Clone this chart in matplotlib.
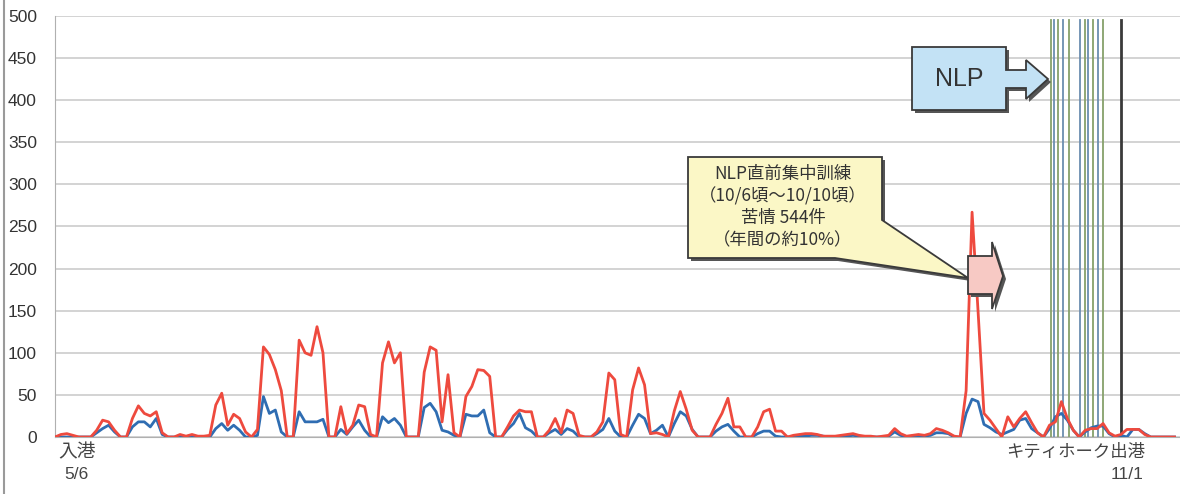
import numpy as np
import matplotlib
matplotlib.use("Agg")
import matplotlib.pyplot as plt
from matplotlib.patches import Polygon
from matplotlib.lines import Line2D

plt.rcParams['font.family'] = ['Liberation Sans', 'Noto Sans CJK JP', 'DejaVu Sans']

# daily complaint counts from 5/6 (day 0) onwards
total_counts = [
    0, 3, 4, 2, 0, 0, 0, 8, 20, 18, 8, 0, 0, 22, 37, 28, 25, 30, 5, 0,
    0, 3, 1, 3, 1, 1, 2, 38, 52, 14, 27, 22, 6, 0, 9, 107, 98, 80, 55, 0,
    0, 115, 100, 97, 131, 100, 0, 0, 36, 4, 14, 38, 36, 3, 0, 88, 113, 88, 100, 0,
    0, 0, 77, 107, 103, 18, 74, 5, 0, 48, 60, 80, 79, 72, 0, 0, 12, 25, 32, 30,
    30, 0, 0, 8, 22, 5, 32, 28, 2, 0, 0, 6, 18, 76, 68, 3, 0, 56, 82, 62,
    4, 5, 3, 0, 31, 54, 33, 8, 0, 0, 0, 15, 28, 46, 12, 12, 0, 0, 12, 30,
    33, 7, 7, 0, 2, 3, 4, 4, 3, 1, 1, 1, 2, 3, 4, 2, 1, 1, 0, 1,
    2, 10, 4, 1, 2, 3, 2, 4, 10, 8, 5, 1, 0, 55, 267, 150, 28, 20, 10, 0,
    24, 12, 22, 30, 17, 5, 0, 14, 18, 42, 22, 8, 0, 8, 10, 10, 16, 5, 1, 3,
    9, 9, 9, 3, 0, 0, 0, 0, 0,
]
night_counts = [
    0, 0, 0, 0, 0, 0, 0, 5, 10, 14, 6, 0, 0, 12, 18, 18, 12, 22, 3, 0,
    0, 0, 0, 0, 0, 0, 0, 10, 16, 8, 14, 8, 0, 0, 2, 48, 28, 32, 6, 0,
    0, 30, 18, 18, 18, 21, 0, 0, 9, 3, 12, 20, 8, 0, 0, 24, 17, 22, 14, 0,
    0, 0, 35, 40, 30, 8, 6, 2, 0, 27, 25, 25, 32, 5, 0, 0, 9, 16, 28, 11,
    7, 0, 0, 5, 9, 3, 10, 7, 0, 0, 0, 4, 9, 22, 7, 0, 0, 14, 27, 22,
    4, 8, 14, 0, 16, 30, 25, 9, 0, 0, 0, 7, 12, 15, 7, 0, 0, 0, 4, 7,
    7, 1, 0, 0, 0, 1, 1, 2, 2, 1, 0, 0, 1, 1, 2, 1, 0, 0, 0, 0,
    1, 6, 2, 0, 1, 1, 1, 2, 5, 5, 4, 0, 0, 28, 45, 42, 15, 11, 6, 3,
    6, 9, 20, 22, 10, 5, 0, 10, 24, 28, 20, 8, 0, 6, 11, 13, 13, 4, 0, 2,
    0, 9, 9, 4, 0, 0, 0, 0, 0,
]
days = np.arange(len(total_counts))

# NLP days (vertical markers) and departure day
nlp_days = [167.3, 167.8, 168.4, 169.3, 170.3, 172.1, 173.0, 173.5, 174.3, 175.1, 176.0]
departure_day = 179.0

W, H = 1180, 494
fig = plt.figure(figsize=(W / 100, H / 100), dpi=100)
ax = fig.add_axes([55 / W, 1 - 437 / H, 1 - 55 / W, (437 - 16) / H])


def px(x, y):
    # pixel position -> figure fraction
    return (x / W, 1 - y / H)


ax.set_xlim(0, 1125 / 5.955)
ax.set_ylim(0, 500)
ax.set_yticks(np.arange(0, 501, 50))
ax.set_xticks([])
ax.tick_params(axis='y', length=0, pad=13, labelsize=12.5, labelcolor='#333333')
ax.grid(axis='y', color='#c8c8c8', lw=1.1)
ax.set_axisbelow(True)
for s in ['top', 'right']:
    ax.spines[s].set_visible(False)
ax.spines['left'].set_color('#b0b0b0')
ax.spines['bottom'].set_color('#b0b0b0')

colors = ['#86a06a', '#6b8eb0']
for k, d in enumerate(nlp_days):
    ax.axvline(d, ymax=0.99, color=colors[k % 2], lw=1.3, zorder=1)
ax.axvline(departure_day, ymax=0.99, color='#3a3a3a', lw=2.0, zorder=1)

ax.plot(days, night_counts, color='#2f6db2', lw=2.0, zorder=3)
ax.plot(days, total_counts, color='#ee4a3e', lw=2.0, zorder=4)


def shape(points, face, zorder=5):
    # filled outline with a dark drop shadow
    sh = [px(x + 3, y + 3) for x, y in points]
    fig.patches.append(Polygon(sh, closed=True, transform=fig.transFigure,
                               facecolor='#555555', edgecolor='none', zorder=zorder))
    fig.patches.append(Polygon([px(x, y) for x, y in points], closed=True,
                               transform=fig.transFigure, facecolor=face,
                               edgecolor='#3a3a3a', lw=1.3, zorder=zorder + 1))


cjk = ['Noto Sans CJK JP', 'DejaVu Sans']

# callout for the pre-NLP training period
shape([(688, 157), (882, 157), (882, 220), (968, 278), (835, 258), (688, 258)], '#fbf7c6')
callout = ['NLP直前集中訓練', '（10/6頃～10/10頃）', '苦情 544件', '（年間の約10%）']
for row, t in zip([174, 196, 218, 240], callout):
    fig.text(*px(783, row), t, ha='center', va='center', fontsize=12.5,
             color='#333333', zorder=10, family=cjk)

# small pink arrow next to the peak
shape([(968, 256), (992, 256), (992, 242), (1003, 276), (992, 309), (992, 294), (968, 294)],
      '#f7c9c4')

# NLP arrow box
shape([(912, 47), (1006, 47), (1006, 70), (1026, 70), (1026, 60), (1048, 79),
       (1026, 99), (1026, 88), (1006, 88), (1006, 110), (912, 110)], '#c3e2f5')
fig.text(*px(959, 79), 'NLP', ha='center', va='center', fontsize=18,
         color='#333333', zorder=10)

# arrival / departure labels
fig.text(*px(77, 452), '入港', ha='center', va='center', fontsize=13.5,
         color='#444444', family=cjk)
fig.text(*px(76, 474), '5/6', ha='center', va='center', fontsize=12.5, color='#444444')
fig.text(*px(1145, 452), 'キティホーク出港', ha='right', va='center', fontsize=12.5,
         color='#444444', family=cjk)
fig.text(*px(1144, 474), '11/1', ha='right', va='center', fontsize=12.5, color='#444444')

# outer frame line on the left
fig.lines.append(Line2D([4 / W, 4 / W], [0, 1], transform=fig.transFigure,
                        color='#9a9a9a', lw=1.5))

fig.savefig('out.png', dpi=100)
